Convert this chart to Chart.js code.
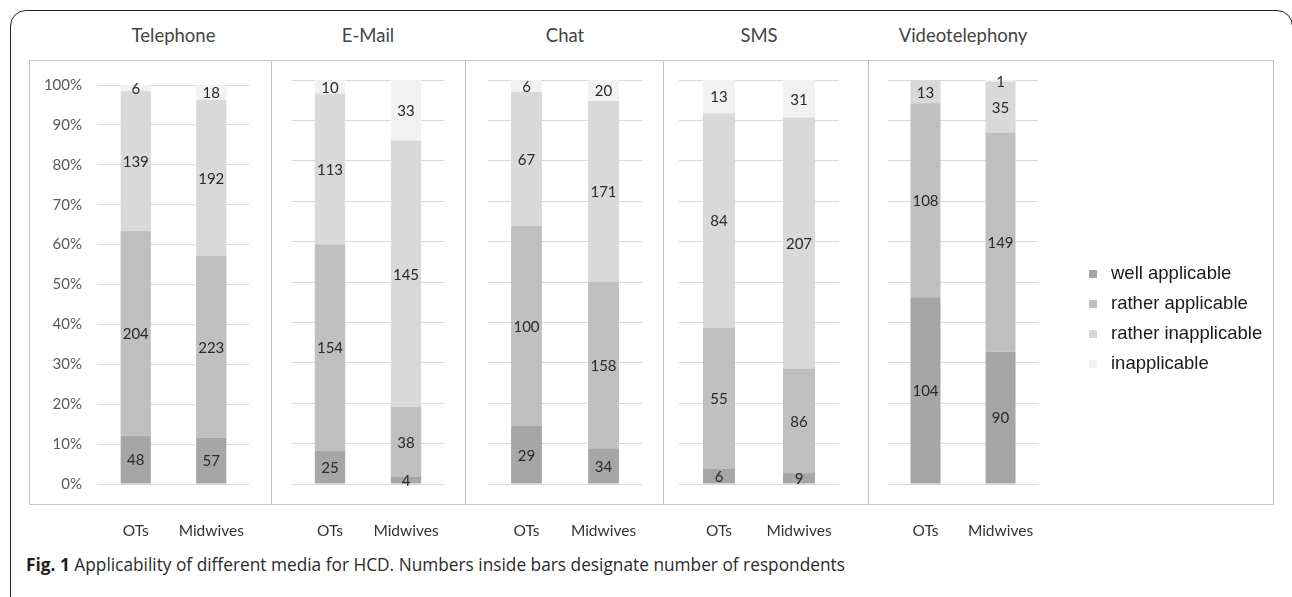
<!DOCTYPE html>
<html lang="en">
<head>
    <meta charset="UTF-8">
    <title>Applicability of different media for HCD</title>
    <script src="https://cdn.jsdelivr.net/npm/chart.js"></script>
    <style>
        body { margin: 0; background: #fff; width: 1292px; height: 597px; overflow: hidden; position: relative; }
        .frame { position: absolute; left: 10px; top: 10px; width: 1281px; height: 640px; border: 1.5px solid #222; border-radius: 16px; }
        .panelbox { position: absolute; top: 60px; height: 445px; border: 1px solid #c4c4c4; box-sizing: border-box; }
        .title { position: absolute; top: 24px; font: 18.5px Lato, sans-serif; color: #444; text-align: center; white-space: nowrap; }
        canvas { position: absolute; top: 60px; }
        #legend { position: absolute; left: 1089px; top: 258px; font: 18.5px "Liberation Sans", Arial, sans-serif; color: #1a1a1a; }
        #legend div { height: 30px; line-height: 30px; white-space: nowrap; }
        #legend span { display: inline-block; width: 8px; height: 8px; margin-right: 14px; vertical-align: 1px; }
        .caption { position: absolute; left: 26px; top: 553px; font: 17.3px "Open Sans", sans-serif; color: #2b2b2b; white-space: nowrap; }
        .caption b { color: #1e1e1e; }
    </style>
</head>
<body>
    <div class="frame"></div>
    <div id="panels"></div>
    <div id="legend"></div>
    <div class="caption"><b>Fig. 1</b> Applicability of different media for HCD. Numbers inside bars designate number of respondents</div>

    <script>
        // data (number of respondents)
        const media = ['Telephone', 'E-Mail', 'Chat', 'SMS', 'Videotelephony'];
        const groups = ['OTs', 'Midwives'];
        const levels = ['well applicable', 'rather applicable', 'rather inapplicable', 'inapplicable'];
        const wellApplicable     = [[48, 57], [25, 4], [29, 34], [6, 9], [104, 90]];
        const ratherApplicable   = [[204, 223], [154, 38], [100, 158], [55, 86], [108, 149]];
        const ratherInapplicable = [[139, 192], [113, 145], [67, 171], [84, 207], [13, 35]];
        const inapplicable       = [[6, 18], [10, 33], [6, 20], [13, 31], [0, 1]];
        const yTickStep = 10;

        const levelColors = ['#a6a6a6', '#bfbfbf', '#d9d9d9', '#f2f2f2'];

        // layout of the five panels (px)
        const boxEdges = [29, 271, 465, 663, 868, 1273];
        const plotSpans = [[98, 249], [292, 444], [488, 642], [679, 839], [888, 1038]];

        const countLabels = {
            id: 'countLabels',
            afterDatasetsDraw(chart) {
                const ctx = chart.ctx;
                ctx.save();
                ctx.font = '15px Lato, sans-serif';
                ctx.fillStyle = '#2a2a2a';
                ctx.textAlign = 'center';
                ctx.textBaseline = 'middle';
                chart.data.datasets.forEach((ds, di) => {
                    chart.getDatasetMeta(di).data.forEach((bar, j) => {
                        const n = ds.counts[j];
                        if (!n) return;
                        const p = bar.getCenterPoint();
                        ctx.fillText(n, p.x, p.y + 1);
                    });
                });
                ctx.restore();
            }
        };

        const panels = document.getElementById('panels');
        const series = [wellApplicable, ratherApplicable, ratherInapplicable, inapplicable];

        media.forEach((name, i) => {
            const left = boxEdges[i], right = boxEdges[i + 1];
            const [gl, gr] = plotSpans[i];

            const box = document.createElement('div');
            box.className = 'panelbox';
            box.style.left = left + 'px';
            box.style.width = (right - left + 1) + 'px';
            panels.appendChild(box);

            const t = document.createElement('div');
            t.className = 'title';
            t.textContent = name;
            t.style.left = gl + 'px';
            t.style.width = (gr - gl) + 'px';
            panels.appendChild(t);

            const cv = document.createElement('canvas');
            cv.width = right - left;
            cv.height = 485;
            cv.style.left = left + 'px';
            panels.appendChild(cv);

            const totals = groups.map((g, j) => series.reduce((s, arr) => s + arr[i][j], 0));
            const datasets = levels.map((lv, k) => ({
                label: lv,
                data: groups.map((g, j) => series[k][i][j] / totals[j] * 100),
                counts: groups.map((g, j) => series[k][i][j]),
                backgroundColor: levelColors[k],
                borderWidth: 0,
                barPercentage: 0.4,
                categoryPercentage: 1
            }));

            new Chart(cv, {
                type: 'bar',
                data: { labels: groups, datasets: datasets },
                options: {
                    responsive: false,
                    animation: false,
                    layout: { padding: { top: 20, right: right - gr, bottom: 0, left: 0 } },
                    plugins: { legend: { display: false }, tooltip: { enabled: false } },
                    scales: {
                        x: {
                            stacked: true,
                            grid: { display: false, drawTicks: false },
                            border: { display: false },
                            ticks: { padding: 38, maxRotation: 0, autoSkip: false, color: '#333', font: { family: 'Lato', size: 15.5 } },
                            afterFit: s => { s.height = 61; s.paddingLeft = 0; s.paddingRight = 0; }
                        },
                        y: {
                            stacked: true,
                            min: 0, max: 100,
                            grid: { color: '#d9d9d9', drawTicks: false },
                            border: { display: false },
                            ticks: {
                                display: i === 0,
                                stepSize: yTickStep,
                                padding: 16,
                                color: '#595959',
                                font: { family: 'Lato', size: 15 },
                                callback: v => v + '%'
                            },
                            afterFit: s => { s.width = gl - left; }
                        }
                    }
                },
                plugins: [countLabels]
            });
        });

        const legend = document.getElementById('legend');
        levels.forEach((lv, k) => {
            const row = document.createElement('div');
            row.innerHTML = '<span style="background:' + levelColors[k] + '"></span>' + lv;
            legend.appendChild(row);
        });
    </script>
</body>
</html>
